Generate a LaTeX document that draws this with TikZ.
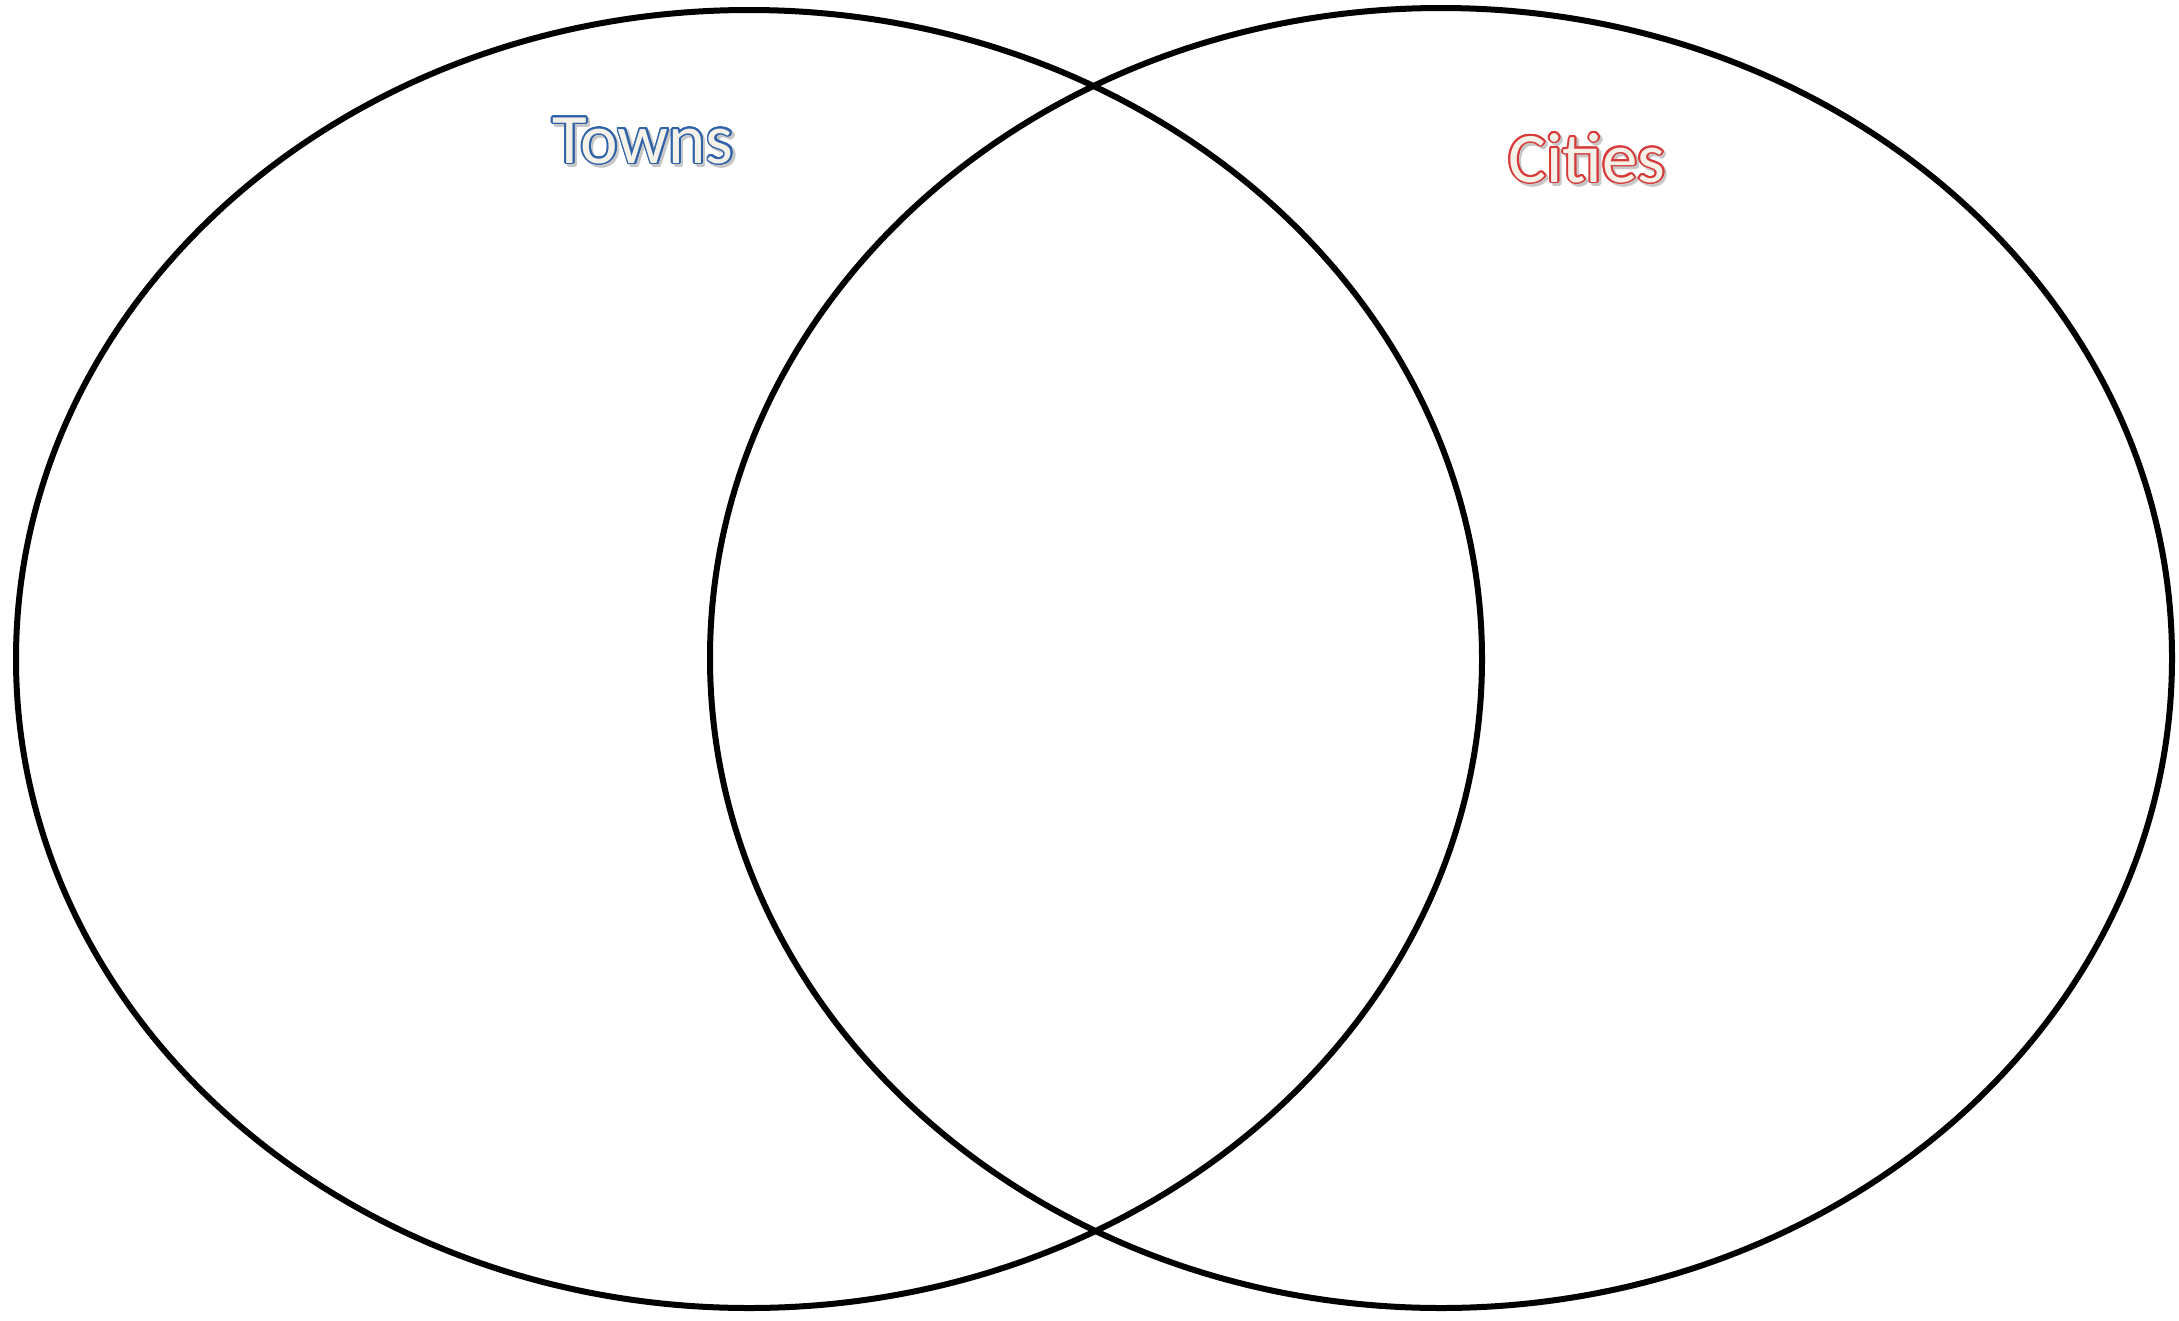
\documentclass[tikz,border=0pt]{standalone}
\usepackage{fontspec}
\setmainfont{Carlito}
\usepackage[copies]{contour}
\contourlength{1.8pt}
\definecolor{townblue}{HTML}{2F62A8}
\definecolor{cityred}{HTML}{D83A3A}
\definecolor{fillcream}{HTML}{F4F2E8}
\newcommand{\outlinetext}[2]{%
  \makebox[0pt][l]{\hspace{2.5pt}\raisebox{-2.5pt}{\contour{black!22}{\textcolor{black!22}{#2}}}}%
  \contour{#1}{\textcolor{fillcream}{#2}}}
\begin{document}
\begin{tikzpicture}[x=1pt, y=-1pt, set/.style={line width=6pt},
  lab/.style={font=\fontsize{71}{85}\selectfont, inner sep=0pt, anchor=base}]
  \useasboundingbox (0,0) rectangle (2179,1320);
  \draw[set] (749,659) ellipse (733 and 649);
  \draw[set] (1441,658) ellipse (731 and 650);
  \node[lab] (towns) at (643,163) {\outlinetext{townblue}{Towns}};
  \node[lab] (cities) at (1587,182) {\outlinetext{cityred}{Cities}};
\end{tikzpicture}
\end{document}
